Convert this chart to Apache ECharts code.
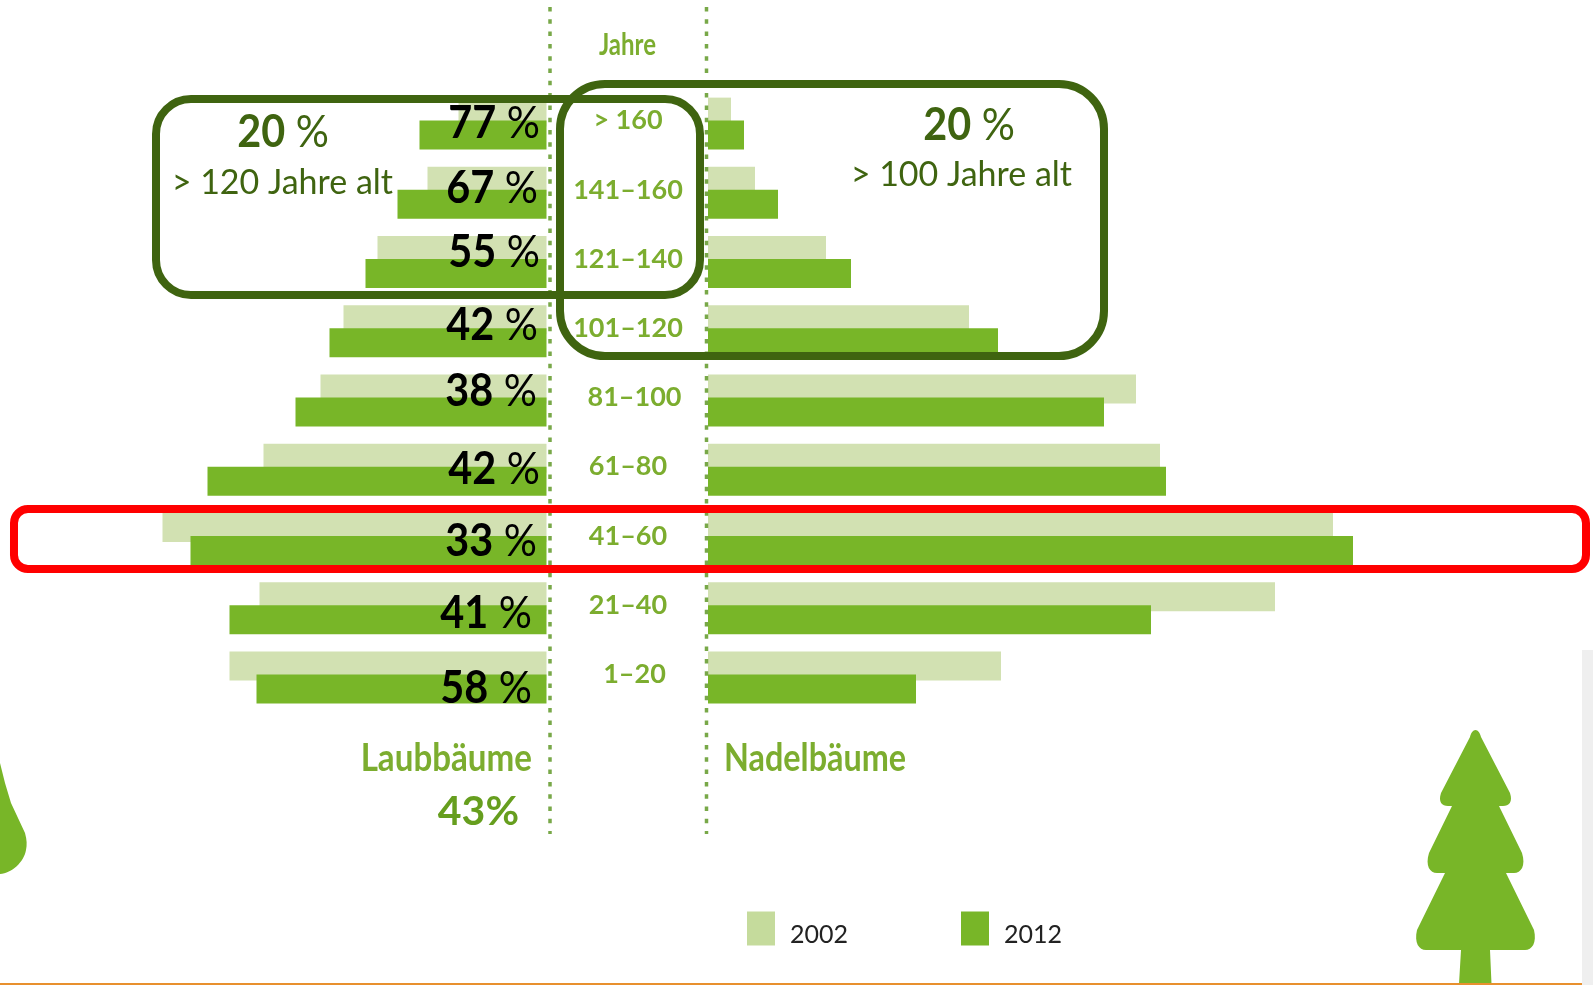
<!DOCTYPE html>
<html>
<head>
<meta charset="utf-8">
<title>Baumalter</title>
<script src="https://cdn.jsdelivr.net/npm/echarts@6/dist/echarts.min.js"></script>
<style>
html, body { margin: 0; padding: 0; background: #fff; }
#main { width: 1593px; height: 985px; }
</style>
</head>
<body>
<div id="main"></div>
<script>
var ages = ['> 160', '141–160', '121–140', '101–120', '81–100', '61–80', '41–60', '21–40', '1–20'];
var laub2002 = [88, 119, 169, 203, 226, 283, 384, 287, 317];
var laub2012 = [127, 149, 181, 217, 251, 339, 356, 317, 290];
var nadel2002 = [23, 47, 118, 261, 428, 452, 625, 567, 293];
var nadel2012 = [36, 70, 143, 290, 396, 458, 645, 443, 208];
var shares = ['77', '67', '55', '42', '38', '42', '33', '41', '58'];
var shareRight = [540, 538, 540, 538, 537, 540, 537, 532, 532];
var shareMiddle = [123, 188, 252, 325, 391, 469, 541, 613, 688];

var LIGHT = '#d2e1b2';
var DARK = '#78b628';
var BOX = '#3f6410';
var LABEL = '#7cad2f';
var LATO = 'Lato, sans-serif';

// Baeume als eigene Formen
echarts.graphic.registerShape('nadelbaum', echarts.graphic.extendPath('M1475.5 730 C1478 730 1480 733 1481 737 L1510 793 C1513 802 1509 806 1503 806 L1499 806 L1522 853 C1526 866 1521 873 1514 873 L1506 873 L1534 930 C1537 943 1532 950 1525 950 L1490 950 L1491.5 984 L1459 984 L1461 950 L1426 950 C1419 950 1414 943 1417 930 L1445 873 L1437 873 C1430 873 1425 866 1429 853 L1452 806 L1448 806 C1442 806 1438 802 1441 793 L1470 737 C1471 733 1473 730 1475.5 730 Z', {}));
echarts.graphic.registerShape('laubbaum', echarts.graphic.extendPath('M0 763 L5 783 L11 803 L25 833 C27 840 27 845 26 850 C24 862 12 873 0 874 Z', {}));

var myChart = echarts.init(document.getElementById('main'));

function bar(name, color, data, idx) {
    return {
        name: name,
        type: 'bar',
        xAxisIndex: idx,
        yAxisIndex: idx,
        barWidth: 29,
        barGap: '-20.7%',
        itemStyle: { color: color },
        silent: true,
        data: data
    };
}

function box(x, y, width, height, r, color) {
    return {
        type: 'rect',
        z: 50,
        shape: { x: x, y: y, width: width, height: height, r: r },
        style: { fill: 'none', stroke: color, lineWidth: 8 }
    };
}

function dots(x) {
    return {
        type: 'line',
        z: 20,
        shape: { x1: x, y1: 7, x2: x, y2: 834 },
        style: { stroke: '#78a848', lineWidth: 3.5, lineDash: [4.5, 7.8] }
    };
}

// sx staucht die Schrift in der Breite, das Original ist schmaler als Lato
function label(text, x, y, font, color, align, sx, rich) {
    return {
        type: 'text',
        z: 60,
        x: x,
        y: y,
        scaleX: sx || 1,
        style: {
            text: text, x: 0, y: 0, font: font, fill: color,
            align: align, verticalAlign: 'middle', rich: rich
        }
    };
}

function percent(num, x, y, color) {
    return label('{b|' + num + '} {r|%}', x, y, '45px ' + LATO, color, 'right', 0.92, {
        b: { font: 'bold 45px ' + LATO, fill: color },
        r: { font: '45px ' + LATO, fill: color }
    });
}

var graphics = [
    dots(550), dots(706.5),
    box(156, 99, 544, 196, 35, BOX),
    box(560, 84, 544, 272, 45, BOX),
    box(14, 509, 1572, 60, 14, '#ff0000'),
    { type: 'nadelbaum', z: 5, style: { fill: DARK } },
    { type: 'laubbaum', z: 5, style: { fill: DARK } },
    { type: 'rect', z: 1, shape: { x: 1582, y: 650, width: 11, height: 335 }, style: { fill: '#efefef' } },
    { type: 'rect', z: 5, shape: { x: 0, y: 983, width: 1582, height: 2 }, style: { fill: '#e8902e' } },
    label('Jahre', 627.5, 45, 'bold 30px ' + LATO, LABEL, 'center', 0.8),
    label('Laubbäume', 532, 758, 'bold 39px ' + LATO, LABEL, 'right', 0.85),
    label('Nadelbäume', 724, 758, 'bold 39px ' + LATO, LABEL, 'left', 0.83),
    label('43%', 519, 812, 'bold 41px ' + LATO, '#669e1e', 'right'),
    percent('20', 329, 132, BOX),
    percent('20', 1015, 125, BOX),
    label('> 120 Jahre alt', 393, 183, '34px ' + LATO, BOX, 'right'),
    label('> 100 Jahre alt', 1072, 175, '34px ' + LATO, BOX, 'right')
];

shares.forEach(function (s, i) {
    graphics.push(percent(s, shareRight[i], shareMiddle[i], '#000'));
});

myChart.setOption({
    animation: false,
    backgroundColor: '#fff',
    legend: {
        left: 742,
        top: 905,
        itemWidth: 28,
        itemHeight: 34,
        itemGap: 113,
        selectedMode: false,
        // Leerzeile schiebt die Jahreszahl etwas unter die Mitte des Kaestchens
        formatter: '\n{name}',
        textStyle: { fontFamily: LATO, fontSize: 25, lineHeight: 12, color: '#222', padding: [0, 0, 0, 10] },
        data: [
            { name: '2002', icon: 'rect', itemStyle: { color: '#c5db9c' } },
            { name: '2012', icon: 'rect', itemStyle: { color: DARK } }
        ]
    },
    grid: [
        { left: 46.5, top: 89, width: 500, height: 623 },
        { left: 708, top: 89, width: 700, height: 623 }
    ],
    xAxis: [
        { gridIndex: 0, type: 'value', inverse: true, min: 0, max: 500, show: false },
        { gridIndex: 1, type: 'value', min: 0, max: 700, show: false }
    ],
    yAxis: [
        { gridIndex: 0, type: 'category', inverse: true, data: ages, show: false },
        {
            gridIndex: 1,
            type: 'category',
            inverse: true,
            data: ages,
            axisLine: { show: false },
            axisTick: { show: false },
            axisLabel: {
                margin: 80,
                align: 'center',
                padding: [0, 0, 6, 0],
                fontFamily: LATO,
                fontWeight: 'bold',
                fontSize: 27,
                color: LABEL,
                formatter: function (v) {
                    return (v === '81–100' || v === '1–20') ? '{s|' + v + '}' : v;
                },
                rich: {
                    s: { padding: [0, 0, 0, 13], fontFamily: LATO, fontWeight: 'bold', fontSize: 27, color: LABEL }
                }
            }
        }
    ],
    series: [
        bar('2002', LIGHT, laub2002, 0),
        bar('2012', DARK, laub2012, 0),
        bar('2002', LIGHT, nadel2002, 1),
        bar('2012', DARK, nadel2012, 1)
    ],
    graphic: graphics
});
</script>
</body>
</html>
